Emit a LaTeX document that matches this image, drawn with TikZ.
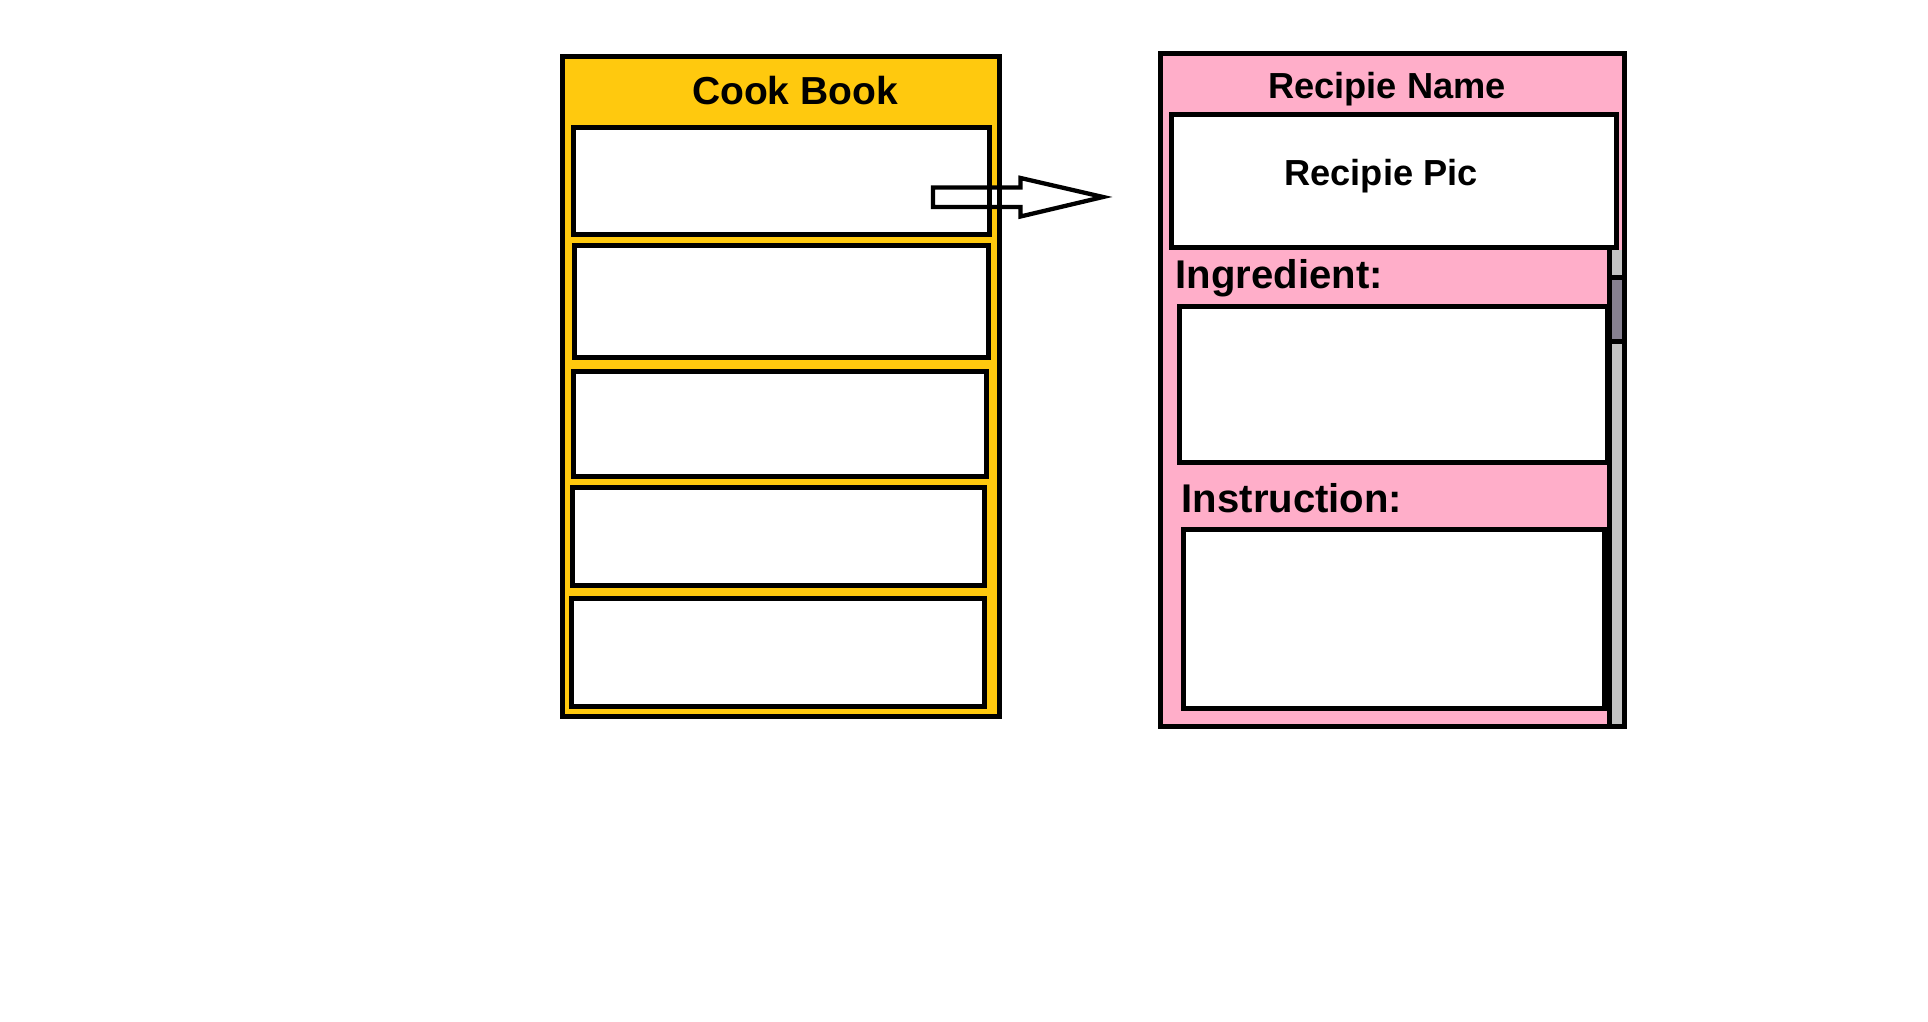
\documentclass[tikz,border=0pt]{standalone}
\usepackage{fontspec}
\setmainfont{Liberation Sans}
\usepackage{tikz}
\usetikzlibrary{calc}
\definecolor{bookgold}{HTML}{FFC90E}
\definecolor{recipink}{HTML}{FFAEC9}
\definecolor{scrollgrey}{HTML}{C3C3C3}
\definecolor{thumbgrey}{HTML}{868090}
\tikzset{
	frame/.style={line width=1.42pt, draw=black},
	slot/.style={line width=1.34pt, draw=black, fill=white},
	bigtxt/.style={inner sep=0pt, font=\fontsize{11.1}{13}\selectfont\bfseries},
	midtxt/.style={inner sep=0pt, font=\fontsize{10.3}{12}\selectfont\bfseries},
	headtxt/.style={inner sep=0pt, font=\fontsize{11.4}{13}\selectfont\bfseries}
}

\begin{document}
\begin{tikzpicture}[x=0.01cm, y=-0.01cm]
			%%%%% START %%%%%
			\useasboundingbox (0, 0) rectangle (1928, 1022);
			
			% cook book
			\draw[frame, fill=bookgold] (562.5, 56.5) rectangle (999.5, 716.5);
			\node[bigtxt, anchor=base] (cookbook) at (795, 105) {Cook Book};
			
			\draw[slot] (573.4, 127.4) rectangle (989.6, 234.6);
			\draw[slot] (574.4, 245.4) rectangle (988.6, 357.6);
			\draw[slot] (573.4, 371.4) rectangle (986.6, 476.6);
			\draw[slot] (572.4, 487.4) rectangle (984.6, 585.6);
			\draw[slot] (571.4, 598.4) rectangle (984.6, 706.6);
			
			% arrow
			\draw[line width=1.22pt, fill=white] (933, 187.5) -- (1020.5, 187.5) -- (1020.5, 178) -- (1103, 197) -- (1020.5, 216.5) -- (1020.5, 207) -- (933, 207) -- cycle;
			\draw[line width=1.34pt] (989.6, 127.4) -- (989.6, 234.6);
			\draw[line width=1.42pt] (999.5, 56.5) -- (999.5, 716.5);
			
			% recipe page
			\draw[frame, fill=recipink] (1160.5, 53.5) rectangle (1624.5, 726.5);
			\node[midtxt, anchor=base] (recipename) at (1387, 99) {Recipie Name};
			
			\draw[slot] (1171.3, 114.3) rectangle (1616.7, 247.7);
			\node[midtxt, anchor=base] (recipepic) at (1381, 186) {Recipie Pic};
			
			\fill[scrollgrey] (1609, 250) rectangle (1622, 724);
			\draw[line width=1.42pt] (1609.5, 248) -- (1609.5, 726.5);
			\draw[line width=1.42pt, fill=thumbgrey] (1609.5, 277.5) rectangle (1624.5, 341.5);
			
			\node[headtxt, anchor=base west] (ingredient) at (1175, 289) {Ingredient:};
			\draw[slot] (1179.3, 306.3) rectangle (1607, 462.7);
			
			\node[headtxt, anchor=base west] (instruction) at (1181, 513) {Instruction:};
			\draw[slot] (1183.3, 529.3) rectangle (1604.7, 708.7);
			\draw[line width=1.42pt] (1609.5, 248) -- (1609.5, 726.5);
			
			%%%%% END %%%%%
		\end{tikzpicture}
\end{document}
